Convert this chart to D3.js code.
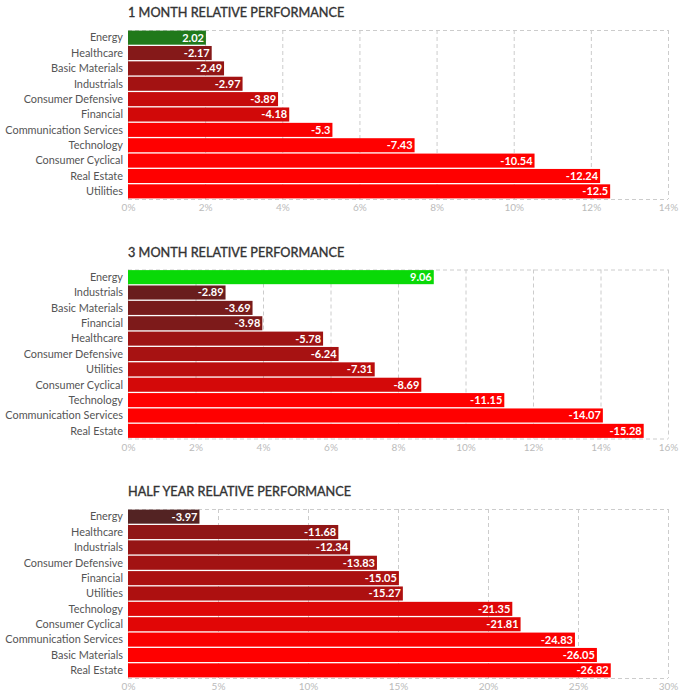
<!DOCTYPE html>
<html>
<head>
<meta charset="utf-8">
<script src="https://cdn.jsdelivr.net/npm/d3@7"></script>
<style>
  body { margin: 0; background: #fff; }
  text { font-family: Lato, "Open Sans", sans-serif; }
</style>
</head>
<body>
<div id="chart"></div>
<script>
var width = 689, height = 700;

// data
var m1Sectors = ['Energy', 'Healthcare', 'Basic Materials', 'Industrials', 'Consumer Defensive', 'Financial',
  'Communication Services', 'Technology', 'Consumer Cyclical', 'Real Estate', 'Utilities'];
var m1Values = [2.02, -2.17, -2.49, -2.97, -3.89, -4.18, -5.3, -7.43, -10.54, -12.24, -12.5];

var m3Sectors = ['Energy', 'Industrials', 'Basic Materials', 'Financial', 'Healthcare', 'Consumer Defensive',
  'Utilities', 'Consumer Cyclical', 'Technology', 'Communication Services', 'Real Estate'];
var m3Values = [9.06, -2.89, -3.69, -3.98, -5.78, -6.24, -7.31, -8.69, -11.15, -14.07, -15.28];

var hySectors = ['Energy', 'Healthcare', 'Industrials', 'Consumer Defensive', 'Financial', 'Utilities',
  'Technology', 'Consumer Cyclical', 'Communication Services', 'Basic Materials', 'Real Estate'];
var hyValues = [-3.97, -11.68, -12.34, -13.83, -15.05, -15.27, -21.35, -21.81, -24.83, -26.05, -26.82];

var m1Ticks = [0, 2, 4, 6, 8, 10, 12, 14];
var m3Ticks = [0, 2, 4, 6, 8, 10, 12, 14, 16];
var hyTicks = [0, 5, 10, 15, 20, 25, 30];

var charts = [
  {title: '1 MONTH RELATIVE PERFORMANCE', sectors: m1Sectors, values: m1Values, ticks: m1Ticks, sat: 5.4, top: 30},
  {title: '3 MONTH RELATIVE PERFORMANCE', sectors: m3Sectors, values: m3Values, ticks: m3Ticks, sat: 11, top: 269.5},
  {title: 'HALF YEAR RELATIVE PERFORMANCE', sectors: hySectors, values: hyValues, ticks: hyTicks, sat: 25.5, top: 509}
];

var left = 128, right = 668, plotH = 169;

var svg = d3.select('#chart').append('svg')
  .attr('width', width)
  .attr('height', height);

charts.forEach(function(c) {
  var g = svg.append('g');
  var x = d3.scaleLinear().domain([0, c.ticks[c.ticks.length - 1]]).range([left, right]);
  var y = d3.scaleBand().domain(c.sectors).range([c.top, c.top + plotH]).paddingInner(0.085).paddingOuter(0.04);
  var color = d3.scaleLinear().domain([-c.sat, 0, c.sat])
    .range(['#ff0000', '#332929', '#00ff00']).clamp(true);

  g.append('text')
    .attr('x', left).attr('y', c.top - 13)
    .attr('font-size', 12.7).attr('fill', '#333')
    .attr('stroke', '#333').attr('stroke-width', 0.35)
    .text(c.title);

  // grid + frame
  g.selectAll('.grid').data(c.ticks).enter().append('line')
    .attr('x1', function(d) {return x(d) + 0.5;})
    .attr('x2', function(d) {return x(d) + 0.5;})
    .attr('y1', c.top).attr('y2', c.top + plotH)
    .attr('stroke', '#ccc').attr('stroke-dasharray', '4,3');
  [c.top, c.top + plotH].forEach(function(yy) {
    g.append('line').attr('x1', left).attr('x2', right)
      .attr('y1', yy + 0.5).attr('y2', yy + 0.5)
      .attr('stroke', '#ccc').attr('stroke-dasharray', '4,3');
  });

  var axis = d3.axisBottom(x).tickValues(c.ticks).tickSize(0).tickPadding(5)
    .tickFormat(function(d) {return d + '%';});
  var ax = g.append('g').attr('transform', 'translate(0,' + (c.top + plotH) + ')').call(axis);
  ax.select('.domain').remove();
  ax.selectAll('text').attr('fill', '#bbb').attr('font-size', 10).style('font-family', 'Lato, sans-serif');

  var rows = c.sectors.map(function(s, i) {return {sector: s, value: c.values[i]};});

  g.selectAll('.bar').data(rows).enter().append('rect')
    .attr('x', x(0))
    .attr('y', function(d) {return y(d.sector);})
    .attr('width', function(d) {return x(Math.abs(d.value)) - x(0);})
    .attr('height', y.bandwidth())
    .attr('fill', function(d) {return color(d.value);});

  g.selectAll('.lab').data(rows).enter().append('text')
    .attr('x', left - 5)
    .attr('y', function(d) {return y(d.sector) + y.bandwidth() / 2;})
    .attr('dy', '0.35em').attr('text-anchor', 'end')
    .attr('font-size', 10.9).attr('fill', '#555')
    .text(function(d) {return d.sector;});

  g.selectAll('.val').data(rows).enter().append('text')
    .attr('x', function(d) {return x(Math.abs(d.value)) - 2;})
    .attr('y', function(d) {return y(d.sector) + y.bandwidth() / 2;})
    .attr('dy', '0.36em').attr('text-anchor', 'end')
    .attr('font-size', 11).attr('font-weight', 'bold').attr('fill', '#fff')
    .text(function(d) {return d.value;});
});
</script>
</body>
</html>
